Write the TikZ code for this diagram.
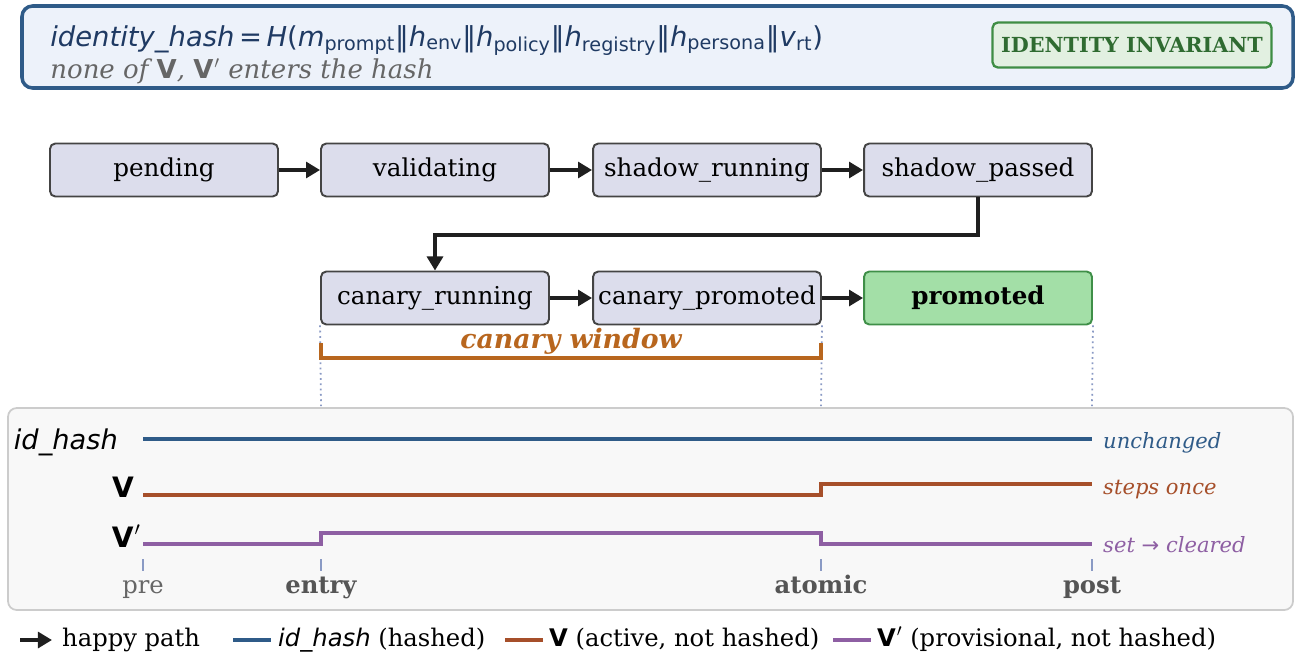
\documentclass[tikz,border=0pt]{standalone}
\usepackage{fontspec}
\setmainfont{DejaVu Serif}
\setsansfont{DejaVu Sans}
\usetikzlibrary{arrows.meta}

\definecolor{hashblue}{HTML}{2F5B88}
\definecolor{formulablue}{HTML}{1F3A63}
\definecolor{headfill}{HTML}{EDF2FA}
\definecolor{boxfill}{HTML}{DCDDEC}
\definecolor{boxedge}{HTML}{444444}
\definecolor{promofill}{HTML}{A3DFA7}
\definecolor{promoedge}{HTML}{3F8F48}
\definecolor{badgefill}{HTML}{E2F0E1}
\definecolor{badgeedge}{HTML}{3E8D44}
\definecolor{badgetext}{HTML}{2F6B31}
\definecolor{vorange}{HTML}{A64F2A}
\definecolor{vpurple}{HTML}{8E5FA3}
\definecolor{canary}{HTML}{B8661E}
\definecolor{panelfill}{HTML}{F8F8F8}
\definecolor{paneledge}{HTML}{CCCCCC}
\definecolor{guide}{HTML}{8A9AC4}
\definecolor{ticktext}{HTML}{555555}

\begin{document}
\begin{tikzpicture}[x=0.02cm,y=-0.02cm,
  state/.style={draw=boxedge, fill=boxfill, rounded corners=3pt, line width=1.1pt,
    minimum width=4.56cm, minimum height=1.06cm, inner sep=0pt,
    font=\fontsize{14}{16}\selectfont},
  happy/.style={-{Triangle[length=8pt,width=9pt]}, line width=2.2pt, draw=black!88},
  sig/.style={line width=2.4pt},
  guideline/.style={draw=guide, line width=1pt, dotted},
  tickline/.style={draw=guide, line width=1.2pt},
  ticklabel/.style={anchor=base, text=ticktext, font=\fontsize{13.8}{16}\selectfont\bfseries},
  sidelabel/.style={anchor=base west, font=\fontsize{12}{14}\selectfont\itshape},
  legend/.style={anchor=base west, font=\fontsize{13.8}{16}\selectfont}]

\useasboundingbox (0,0) rectangle (1300,656);

% header: the identity hash
\draw[draw=hashblue, fill=headfill, line width=2pt, rounded corners=6pt] (22,6) rectangle (1293,88);
\node[anchor=base west, text=formulablue, inner sep=0pt, font=\fontsize{15.6}{17}\sffamily] (formula) at (50,46)
  {\textit{identity\_hash}\,=\,\textit{H}(\textit{m}\textsubscript{prompt}‖\textit{h}\textsubscript{env}‖\textit{h}\textsubscript{policy}‖\textit{h}\textsubscript{registry}‖\textit{h}\textsubscript{persona}‖\textit{v}\textsubscript{rt})};
\node[anchor=base west, text=black!60, inner sep=0pt, font=\fontsize{14.8}{17}\selectfont\itshape] (nohash) at (50,78)
  {none of {\sffamily\upshape\bfseries V}, {\sffamily\upshape\bfseries V}\kern0.5pt$'$ enters the hash};
\node[draw=badgeedge, fill=badgefill, text=badgetext, line width=1.3pt, rounded corners=3pt,
  minimum width=5.58cm, minimum height=0.9cm, font=\fontsize{11.8}{14}\selectfont\bfseries] (badge) at (1132,45) {IDENTITY INVARIANT};

% states
\node[state] (pending) at (164,170) {pending};
\node[state] (valid) at (435,170) {validating};
\node[state] (srun) at (707,170) {shadow\_running};
\node[state] (spass) at (978,170) {shadow\_passed};
\node[state] (crun) at (435,298) {canary\_running};
\node[state] (cprom) at (707,298) {canary\_promoted};
\node[state, fill=promofill, draw=promoedge, font=\fontsize{14}{16}\selectfont\bfseries] (promoted) at (978,298) {promoted};

\draw[happy] (pending) -- (valid);
\draw[happy] (valid) -- (srun);
\draw[happy] (srun) -- (spass);
\coordinate (bend) at (700,235);
\draw[happy] (spass.south) |- (bend) -| (crun.north);
\draw[happy] (crun) -- (cprom);
\draw[happy] (cprom) -- (promoted);

% canary window
\draw[guideline] (crun.south west) -- (321,406);
\draw[guideline] (cprom.south east) -- (821,406);
\draw[guideline] (promoted.south east) -- (1092,406);
\draw[canary, line width=1.9pt] (321,343) -- (321,358) -- (821,358) -- (821,343);
\node[text=canary, font=\fontsize{15.2}{18}\selectfont\bfseries\itshape] (window) at (571,341) {canary window};

% timeline panel
\draw[draw=paneledge, fill=panelfill, line width=1pt, rounded corners=5pt] (8,408) rectangle (1293,610);

\node[anchor=base east, font=\fontsize{15.5}{18}\sffamily\itshape] (lhash) at (124,449) {id\_hash};
\node[anchor=base east, font=\fontsize{16}{18}\sffamily\bfseries] (lv) at (140,497) {V};
\node[anchor=base east, font=\fontsize{16}{18}\sffamily\bfseries] (lvp) at (147,547) {V\kern0.5pt$'$};

\draw[sig, hashblue] (143,439) -- (1092,439);
\draw[sig, vorange] (143,495) -- (821,495) -- (821,484) -- (1092,484);
\draw[sig, vpurple] (143,544) -- (321,544) -- (321,533) -- (821,533) -- (821,544) -- (1092,544);

\node[sidelabel, text=hashblue] (rhash) at (1097,448) {unchanged};
\node[sidelabel, text=vorange] (rv) at (1097,494) {steps once};
\node[sidelabel, text=vpurple] (rvp) at (1097,552) {set {\upshape\sffamily →} cleared};

\foreach \x in {143,321,821,1092}
  \draw[tickline] (\x,559) -- (\x,571);
\node[ticklabel, font=\fontsize{13.8}{16}\selectfont, text=black!60] (tpre) at (143,593) {pre};
\node[ticklabel] (tentry) at (321,593) {entry};
\node[ticklabel] (tatomic) at (821,593) {atomic};
\node[ticklabel] (tpost) at (1092,593) {post};

% legend
\coordinate (la) at (20,640);
\coordinate (lb) at (52,640);
\draw[happy] (la) -- (lb);
\node[legend] at (56,646) {happy path};
\draw[sig, hashblue] (233,640) -- (271,640);
\node[legend] at (272,646) {{\sffamily\itshape id\_hash} (hashed)};
\draw[sig, vorange] (505,640) -- (543,640);
\node[legend] at (543,646) {{\sffamily\bfseries V} (active, not hashed)};
\draw[sig, vpurple] (833,640) -- (871,640);
\node[legend] at (871,646) {{\sffamily\bfseries V}\kern0.5pt$'$ (provisional, not hashed)};

\end{tikzpicture}
\end{document}
